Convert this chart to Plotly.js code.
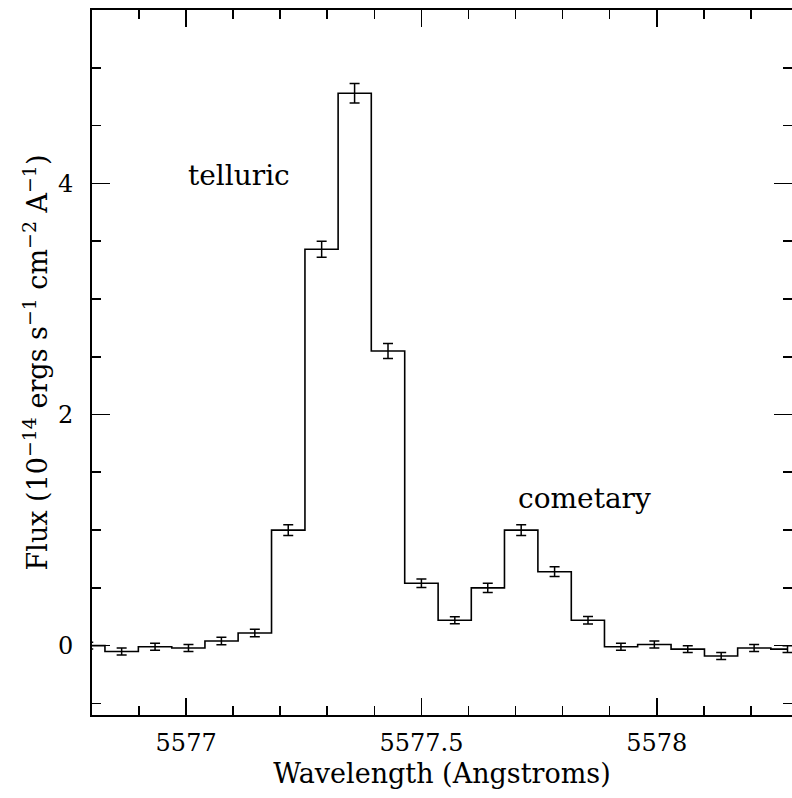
<!DOCTYPE html>
<html>
<head>
<meta charset="utf-8">
<script src="https://cdn.plot.ly/plotly-3.0.1.min.js"></script>
<style>
  html, body { margin: 0; padding: 0; overflow: hidden; background: #fff; }
  #chart { width: 800px; height: 798px; }
</style>
</head>
<body>
<div id="chart"></div>
<script>
// Bin centres (Angstroms)
const wavelength = [5576.792, 5576.863, 5576.934, 5577.005, 5577.075, 5577.146, 5577.217,
  5577.288, 5577.358, 5577.429, 5577.500, 5577.571, 5577.641, 5577.712, 5577.783,
  5577.854, 5577.924, 5577.995, 5578.066, 5578.137, 5578.207, 5578.278];
// Flux (1e-14 ergs s^-1 cm^-2 A^-1)
const flux = [0.00, -0.05, -0.01, -0.02, 0.04, 0.11, 1.00,
  3.43, 4.78, 2.55, 0.54, 0.22, 0.50, 1.00, 0.64,
  0.22, -0.01, 0.01, -0.03, -0.09, -0.02, -0.03];
// 1-sigma errors
const fluxErr = [0.03, 0.03, 0.03, 0.03, 0.033, 0.032, 0.046,
  0.07, 0.085, 0.065, 0.037, 0.03, 0.039, 0.046, 0.042,
  0.033, 0.03, 0.03, 0.03, 0.03, 0.03, 0.03];

const xTickVals = [5577, 5577.5, 5578];
const xTickText = ["5577", "5577.5", "5578"];
const yTickVals = [0, 2, 4];
const yTickText = ["0", "2", "4"];

const labels = ["telluric", "cometary"];
const labelX = [5577.113, 5577.846];
const labelY = [4.07, 1.27];

const FONT = "DejaVu Serif, Liberation Serif, serif";

const trace = {
  type: "scatter",
  mode: "lines",
  x: wavelength,
  y: flux,
  line: { shape: "hvh", color: "#000", width: 1.6 },
  error_y: { type: "data", array: fluxErr, visible: true, color: "#000", thickness: 1.5, width: 5 },
  hoverinfo: "x+y",
  showlegend: false
};

const layout = {
  width: 800,
  height: 798,
  margin: { l: 92, r: 8, t: 10, b: 83 },
  paper_bgcolor: "#fff",
  plot_bgcolor: "#fff",
  font: { family: FONT, color: "#000", size: 24 },
  showlegend: false,
  xaxis: {
    range: [5576.8, 5578.2875],
    tickmode: "array",
    tickvals: xTickVals,
    ticktext: xTickText,
    ticks: "inside",
    ticklen: 17,
    tickwidth: 1.6,
    tickcolor: "#000",
    ticklabelstandoff: 5,
    minor: { dtick: 0.1, tick0: 5577, ticks: "inside", ticklen: 9, tickwidth: 1.6, tickcolor: "#000", showgrid: false },
    showline: true,
    linecolor: "#000",
    linewidth: 2,
    mirror: "ticks",
    showgrid: false,
    zeroline: false,
    tickfont: { family: FONT, size: 24, color: "#000" },
    title: { text: "Wavelength (Angstroms)", font: { family: FONT, size: 27, color: "#000" }, standoff: 8 }
  },
  yaxis: {
    range: [-0.6, 5.5],
    tickmode: "array",
    tickvals: yTickVals,
    ticktext: yTickText,
    ticks: "inside",
    ticklen: 18,
    tickwidth: 1.6,
    tickcolor: "#000",
    ticklabelstandoff: 12,
    minor: { dtick: 0.5, tick0: 0, ticks: "inside", ticklen: 9, tickwidth: 1.6, tickcolor: "#000", showgrid: false },
    showline: true,
    linecolor: "#000",
    linewidth: 2,
    mirror: "ticks",
    showgrid: false,
    zeroline: false,
    tickfont: { family: FONT, size: 24, color: "#000" },
    title: {
      text: "Flux (10<sup>−14</sup> ergs s<sup>−1</sup> cm<sup>−2</sup> A<sup>−1</sup>)",
      font: { family: FONT, size: 27, color: "#000" },
      standoff: 2
    }
  },
  annotations: labels.map((t, i) => ({
    x: labelX[i], y: labelY[i], xref: "x", yref: "y",
    text: t, showarrow: false,
    font: { family: FONT, size: 28, color: "#000" },
    xanchor: "center", yanchor: "middle"
  }))
};

Plotly.newPlot("chart", [trace], layout, { displayModeBar: false, staticPlot: true });
</script>
</body>
</html>
